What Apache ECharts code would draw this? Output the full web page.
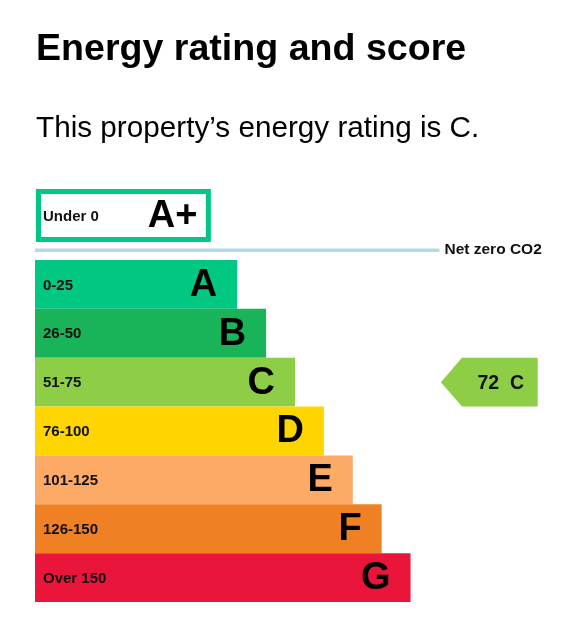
<!DOCTYPE html>
<html>
<head>
<meta charset="utf-8">
<script src="https://cdn.jsdelivr.net/npm/echarts@6/dist/echarts.min.js"></script>
<style>
html,body{margin:0;padding:0;background:#fff;}
#chart{width:569px;height:625px;}
</style>
</head>
<body>
<div id="chart"></div>
<script>
// ---- data ----
const ratings = ['A+', 'A', 'B', 'C', 'D', 'E', 'F', 'G'];
const ranges = ['Under 0', '0-25', '26-50', '51-75', '76-100', '101-125', '126-150', 'Over 150'];
const barLengths = [6, 7, 8, 9, 10, 11, 12, 13];
const rowPositions = [-1.41, 0, 1, 2, 3, 4, 5, 6];
const bandColors = ['#00c781', '#00c781', '#19b459', '#8dce46', '#ffd500', '#fcaa65', '#ef8023', '#e9153b'];
const netZeroLabel = 'Net zero CO2';
const netZeroLine = [14, -0.70];
const currentScore = 72;
const currentRating = 'C';
const titleText = 'Energy rating and score';
const subtitleText = 'This property\u2019s energy rating is C.';

const FONT = '"Liberation Sans", Arial, Helvetica, sans-serif';
const chart = echarts.init(document.getElementById('chart'), null, {renderer: 'canvas'});

const bandData = ratings.map((r, i) => [barLengths[i], rowPositions[i], i]).slice(1);
const plusData = [[barLengths[0], rowPositions[0], 0]];
const curIdx = ratings.indexOf(currentRating);

function bandItem(params, api) {
  const len = api.value(0), row = api.value(1), i = api.value(2);
  const p0 = api.coord([0, row]);
  const p1 = api.coord([len, row]);
  const h = api.size([0, 1])[1];
  return {
    type: 'group',
    children: [
      {type: 'rect', shape: {x: p0[0], y: p0[1] - h / 2, width: p1[0] - p0[0], height: h},
       style: {fill: bandColors[i]}},
      {type: 'text', x: p0[0] + 8, y: p0[1] + 1,
       style: {text: ranges[i], font: 'bold 15px ' + FONT, fill: '#111', align: 'left', verticalAlign: 'middle'}},
      {type: 'text', x: p1[0] - 20, y: p0[1] + 1,
       style: {text: ratings[i], font: 'bold 38px ' + FONT, fill: '#000', align: 'right', verticalAlign: 'middle'}}
    ]
  };
}

function plusItem(params, api) {
  const len = api.value(0), row = api.value(1), i = api.value(2);
  const p0 = api.coord([0, row]);
  const p1 = api.coord([len, row]);
  const h = api.size([0, 1])[1];
  return {
    type: 'group',
    children: [
      {type: 'rect', shape: {x: p0[0] + 3.5, y: p0[1] - h / 2 + 0.5, width: p1[0] - p0[0] - 3.5, height: h - 1},
       style: {fill: '#fff', stroke: bandColors[i], lineWidth: 5}},
      {type: 'text', x: p0[0] + 8, y: p0[1] + 1,
       style: {text: ranges[i], font: 'bold 15px ' + FONT, fill: '#111', align: 'left', verticalAlign: 'middle'}},
      {type: 'text', x: p1[0] - 11, y: p0[1] + 1,
       style: {text: ratings[i], font: 'bold 38px ' + FONT, fill: '#000', align: 'right', verticalAlign: 'middle'}}
    ]
  };
}

function lineItem(params, api) {
  const p0 = api.coord([0, api.value(1)]);
  const p1 = api.coord([api.value(0), api.value(1)]);
  return {
    type: 'group',
    children: [
      {type: 'line', shape: {x1: p0[0], y1: p0[1], x2: p1[0], y2: p1[1]},
       style: {stroke: '#b3d9e6', lineWidth: 3.5}},
      {type: 'text', x: p1[0] + 5, y: p1[1],
       style: {text: netZeroLabel, font: 'bold 15.5px ' + FONT, fill: '#111', align: 'left', verticalAlign: 'middle'}}
    ]
  };
}

// arrow layout (axis units)
const ARROW_TIP = 14.05, ARROW_BODY = 14.78, ARROW_END = 17.4;
function arrowItem(params, api) {
  const row = api.value(1);
  const h = api.size([0, 1])[1];
  const tip = api.coord([ARROW_TIP, row]);
  const body = api.coord([ARROW_BODY, row]);
  const end = api.coord([ARROW_END, row]);
  const top = tip[1] - h / 2, bot = tip[1] + h / 2;
  return {
    type: 'group',
    children: [
      {type: 'polygon', shape: {points: [[tip[0], tip[1]], [body[0], top], [end[0], top], [end[0], bot], [body[0], bot]]},
       style: {fill: bandColors[curIdx]}},
      {type: 'text', x: (body[0] + end[0]) / 2 + 1, y: tip[1] + 1,
       style: {text: api.value(0) + '  ' + currentRating, font: 'bold 19.5px ' + FONT, fill: '#111', align: 'center', verticalAlign: 'middle'}}
    ]
  };
}

chart.setOption({
  backgroundColor: '#fff',
  animation: false,
  title: [
    {text: titleText, left: 36, top: 31, padding: 0,
     textStyle: {fontFamily: FONT, fontSize: 37.6, fontWeight: 'bold', color: '#000', lineHeight: 38}},
    {text: subtitleText, left: 36, top: 114, padding: 0,
     textStyle: {fontFamily: FONT, fontSize: 29.7, fontWeight: 'normal', color: '#000', lineHeight: 30}}
  ],
  grid: {left: 35, width: 520, top: 186.7, height: 415.3},
  xAxis: {type: 'value', min: 0, max: 18, show: false},
  yAxis: {type: 'value', min: -2, max: 6.5, inverse: true, show: false},
  series: [
    {type: 'custom', renderItem: lineItem, data: [netZeroLine], clip: false, silent: true},
    {type: 'custom', renderItem: plusItem, data: plusData, clip: false, silent: true},
    {type: 'custom', renderItem: bandItem, data: bandData, clip: false, silent: true},
    {type: 'custom', renderItem: arrowItem, data: [[currentScore, rowPositions[curIdx]]], clip: false, silent: true}
  ]
});
</script>
</body>
</html>
